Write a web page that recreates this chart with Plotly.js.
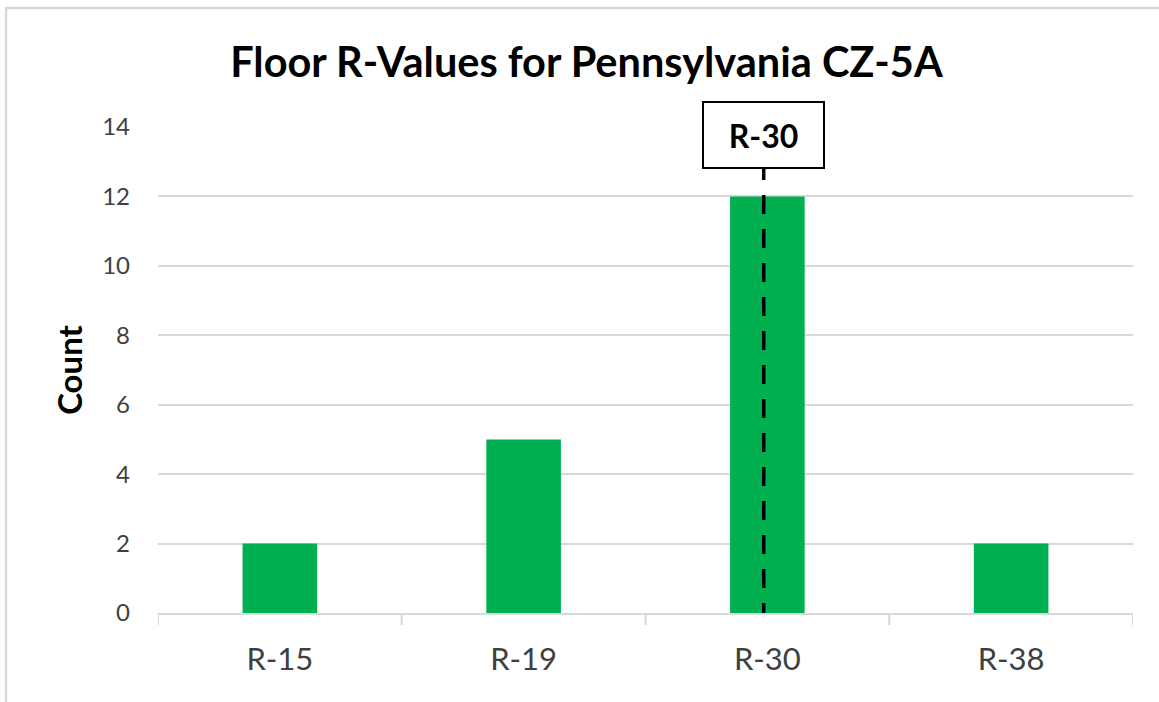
<!DOCTYPE html>
<html>
<head>
<meta charset="utf-8">
<script src="https://cdn.plot.ly/plotly-3.0.1.min.js"></script>
<style>
  html, body { margin: 0; padding: 0; background: #ffffff; }
  #chart { width: 1159px; height: 702px; }
</style>
</head>
<body>
<div id="chart"></div>
<script>
// ---- data ----
const categories = ["R-15", "R-19", "R-30", "R-38"];
const counts = [2, 5, 12, 2];
const yTickValues = [0, 2, 4, 6, 8, 10, 12, 14];
const markerLabel = "R-30";
const markerCategoryIndex = 2;
const chartTitle = "Floor R-Values for Pennsylvania CZ-5A";
const yAxisTitle = "Count";

// ---- styling ----
const FONT = "Lato, 'Open Sans', sans-serif";
const GREEN = "#00B050";
const GRID = "#d9d9d9";
const TICKTXT = "#404040";

const markerX = markerCategoryIndex - 0.015;

const trace = {
  type: "bar",
  x: categories.map((c, i) => i),
  y: counts,
  marker: { color: GREEN, line: { width: 0 } },
  hoverinfo: "skip"
};

const layout = {
  width: 1159,
  height: 702,
  margin: { l: 158, r: 26, t: 127, b: 89, pad: 0 },
  paper_bgcolor: "#ffffff",
  plot_bgcolor: "#ffffff",
  showlegend: false,
  bargap: 0.694,
  title: {
    text: "<b>" + chartTitle + "</b>",
    font: { family: FONT, size: 41.5, color: "#000000" },
    xref: "container",
    x: 0.506,
    xanchor: "center",
    yref: "container",
    y: 1 - 62 / 702,
    yanchor: "middle"
  },
  xaxis: {
    type: "linear",
    range: [-0.5, 3.5],
    tickmode: "array",
    tickvals: categories.map((c, i) => i),
    ticktext: categories,
    showgrid: false,
    zeroline: false,
    showline: true,
    linecolor: GRID,
    linewidth: 2,
    ticks: "",
    tickfont: { family: FONT, size: 31, color: TICKTXT },
    ticklabelstandoff: 18,
    fixedrange: true
  },
  yaxis: {
    range: [0, 14],
    tickmode: "array",
    tickvals: yTickValues,
    ticktext: yTickValues.map(String),
    showgrid: true,
    gridcolor: GRID,
    gridwidth: 2,
    zeroline: false,
    showline: false,
    ticks: "",
    tickfont: { family: FONT, size: 24, color: TICKTXT },
    ticklabelstandoff: 27,
    title: {
      text: "<b>" + yAxisTitle + "</b>",
      font: { family: FONT, size: 33, color: "#000000" },
      standoff: 9
    },
    fixedrange: true
  },
  shapes: [
    // category boundary tick marks
    ...[-0.5, 0.5, 1.5, 2.5, 3.5].map(v => ({
      type: "line", xref: "x", yref: "paper",
      x0: v, x1: v, y0: 0, y1: -12 / 486,
      line: { color: GRID, width: 2 }
    })),
    // dashed marker line
    {
      type: "line", xref: "x", yref: "y",
      x0: markerX, x1: markerX, y0: -0.26, y1: 12.79,
      line: { color: "#000000", width: 3.5, dash: "19px,15px" }
    },
    // outer chart border
    {
      type: "rect", xref: "paper", yref: "paper",
      x0: (6 - 158) / 975, x1: 1.2, y0: -0.4, y1: 1 + (127 - 8) / 486,
      line: { color: GRID, width: 2.5 },
      fillcolor: "rgba(0,0,0,0)",
      layer: "below"
    }
  ],
  annotations: [
    {
      xref: "x", yref: "y",
      x: markerX, y: 13.77,
      xanchor: "center", yanchor: "middle",
      text: "<b>" + markerLabel + "</b>",
      showarrow: false,
      font: { family: FONT, size: 32, color: "#000000" },
      bgcolor: "#ffffff",
      bordercolor: "#000000",
      borderwidth: 2,
      borderpad: 2,
      width: 115,
      height: 60
    }
  ]
};

Plotly.newPlot("chart", [trace], layout, { displayModeBar: false, staticPlot: true });
</script>
</body>
</html>
